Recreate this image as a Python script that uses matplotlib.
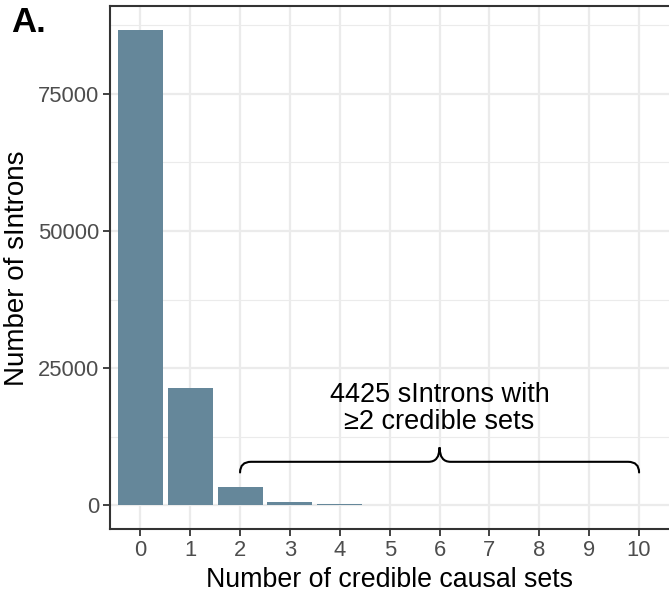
import matplotlib
matplotlib.use("Agg")
import matplotlib.pyplot as plt
from matplotlib.path import Path
from matplotlib.patches import PathPatch

plt.rcParams['font.family'] = ['Liberation Sans', 'DejaVu Sans']

# Number of sIntrons by count of credible causal sets
n_sets = [0, 1, 2, 3, 4, 5, 6, 7, 8, 9, 10]
n_introns = [86580, 21350, 3340, 680, 250, 90, 35, 15, 8, 4, 3]
tick_labels = [str(k) for k in n_sets]
y_ticks = [0, 25000, 50000, 75000]
multi_total = sum(v for k, v in zip(n_sets, n_introns) if k >= 2)

bar_color = "#65879A"
grid_color = "#EBEBEB"
border_color = "#333333"

fig = plt.figure(figsize=(6.69, 5.96), dpi=100)
ax = fig.add_axes([0.165, 0.1124, 0.835, 0.8767])

ax.bar(n_sets, n_introns, width=0.9, color=bar_color, zorder=2)

ymax = max(n_introns)
ax.set_ylim(-0.05 * ymax, 1.05 * ymax)
ax.set_xlim(-0.6, 10.6)
ax.set_xticks(n_sets)
ax.set_xticklabels(tick_labels)
ax.set_yticks(y_ticks)
ax.set_yticks([12500, 37500, 62500, 87500], minor=True)

ax.grid(True, which='major', color=grid_color, linewidth=1.6, zorder=0)
ax.grid(True, which='minor', axis='y', color=grid_color, linewidth=0.8, zorder=0)
ax.set_axisbelow(True)

for side in ['left', 'top', 'bottom']:
    ax.spines[side].set_color(border_color)
    ax.spines[side].set_linewidth(1.5)
ax.spines['right'].set_visible(False)

ax.tick_params(axis='both', which='major', length=5, width=1.3, color=border_color,
               labelsize=15.8, labelcolor="#4D4D4D", pad=3)
ax.tick_params(axis='both', which='minor', length=0)

ax.set_xlabel("Number of credible causal sets", fontsize=19.3, labelpad=4)
ax.set_ylabel("Number of sIntrons", fontsize=20, labelpad=6)

# Curly brace spanning bars 2..10
x0, x1 = 2, 10
xm = (x0 + x1) / 2
r = 0.22
y_end, y_line, y_tip = 5980, 7920, 10550
verts = [
    (x0, y_end), (x0, y_line), (x0 + r, y_line),
    (xm - r, y_line),
    (xm, y_line), (xm, y_tip),
    (xm, y_line), (xm + r, y_line),
    (x1 - r, y_line),
    (x1, y_line), (x1, y_end),
]
codes = [Path.MOVETO, Path.CURVE3, Path.CURVE3,
         Path.LINETO,
         Path.CURVE3, Path.CURVE3,
         Path.CURVE3, Path.CURVE3,
         Path.LINETO,
         Path.CURVE3, Path.CURVE3]
ax.add_patch(PathPatch(Path(verts, codes), facecolor='none', edgecolor='black',
                       linewidth=1.5, zorder=3, capstyle='round'))

ax.text(xm, 17700, f"{multi_total} sIntrons with\n\u22652 credible sets",
        ha='center', va='center', fontsize=19.5, linespacing=1.05, zorder=4)

fig.text(0.016, 0.99, "A.", fontsize=25, fontweight='bold', va='top', ha='left')

fig.savefig("out.png", dpi=100)
